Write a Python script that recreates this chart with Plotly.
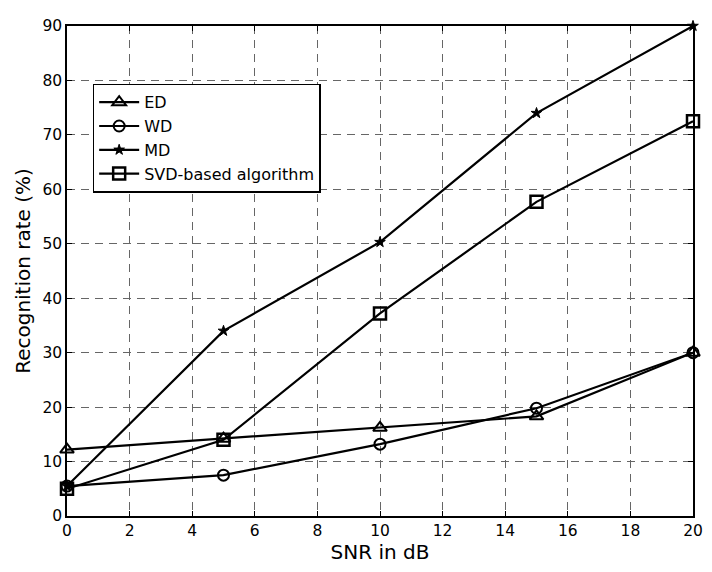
import plotly.graph_objects as go

snr = [0, 5, 10, 15, 20]
ed = [12.2, 14.2, 16.2, 18.3, 30.0]
wd = [5.5, 7.5, 13.2, 19.8, 30.0]
md = [5.5, 34.0, 50.3, 74.0, 90.0]
svd = [5.0, 14.0, 37.2, 57.7, 72.5]
names = ["ED", "WD", "MD", "SVD-based algorithm"]
xticks = list(range(0, 21, 2))
yticks = list(range(0, 91, 10))

series = [
    (names[0], ed, dict(symbol="triangle-up-open", size=12, line=dict(width=2, color="black"))),
    (names[1], wd, dict(symbol="circle-open", size=11, line=dict(width=2, color="black"))),
    (names[2], md, dict(symbol="star", size=8, color="black", line=dict(width=1, color="black"))),
    (names[3], svd, dict(symbol="square-open", size=12, line=dict(width=2.5, color="black"))),
]

fig = go.Figure()
for name, vals, mk in series:
    fig.add_trace(go.Scatter(x=snr, y=vals, name=name, mode="lines+markers",
                             line=dict(color="black", width=2.2), marker=mk,
                             cliponaxis=False))

font = "DejaVu Sans, Liberation Sans, Arial, sans-serif"
axis_common = dict(showline=True, linecolor="black", linewidth=1.5, mirror="ticks",
                   ticks="inside", ticklen=5, tickcolor="black",
                   showgrid=True, gridcolor="#666666", griddash="8px,6px", gridwidth=1,
                   zeroline=False, tickfont=dict(size=15.5, color="black", family=font))
fig.update_xaxes(range=[0, 20], tickmode="array", tickvals=xticks,
                 title=dict(text="SNR in dB", font=dict(size=20, color="black", family=font), standoff=6),
                 **axis_common)
fig.update_yaxes(range=[0, 90], tickmode="array", tickvals=yticks,
                 title=dict(text="Recognition rate (%)", font=dict(size=20, color="black", family=font), standoff=6),
                 **axis_common)
fig.update_layout(
    width=704, height=564,
    margin=dict(l=59, r=10, t=9, b=56),
    paper_bgcolor="white", plot_bgcolor="white",
    font=dict(family=font, color="black"),
    legend=dict(x=0.041, y=0.882, xanchor="left", yanchor="top",
                bgcolor="white", bordercolor="black", borderwidth=1.5,
                font=dict(size=16, family=font, color="black"),
                tracegroupgap=0, itemwidth=40),
    showlegend=True,
)
fig.write_html("out.html")
